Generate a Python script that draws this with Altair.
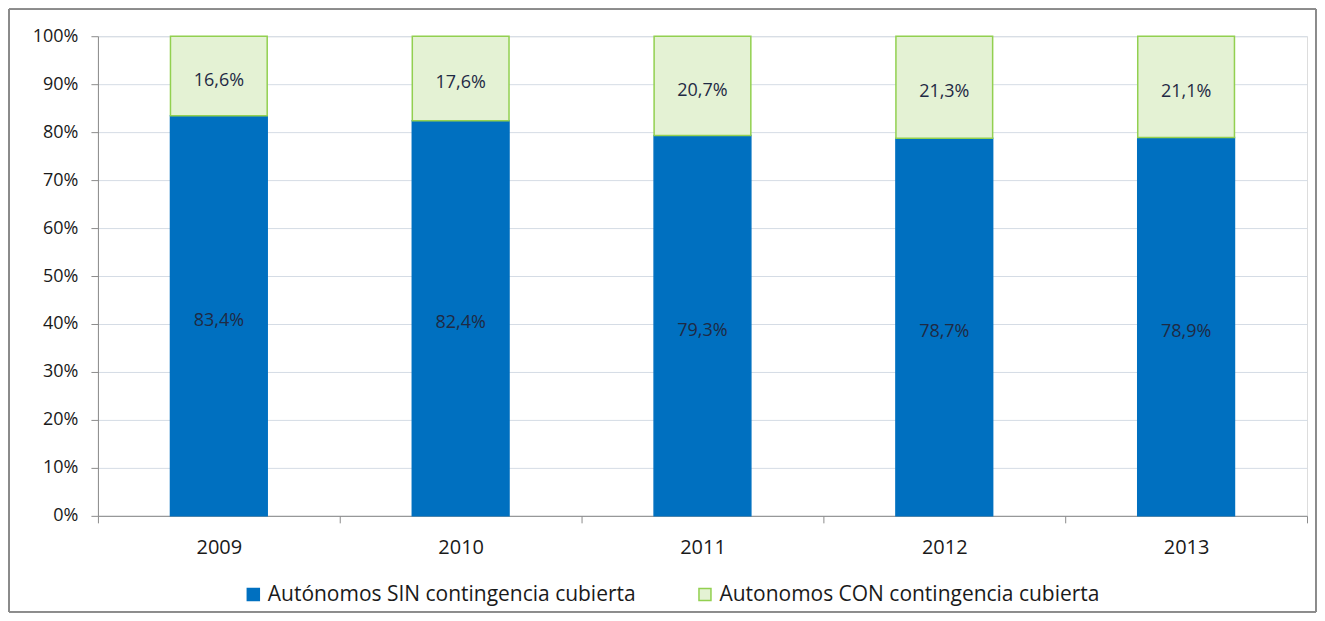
import altair as alt
import pandas as pd

years = ["2009", "2010", "2011", "2012", "2013"]
sin_vals = [83.4, 82.4, 79.3, 78.7, 78.9]
con_vals = [16.6, 17.6, 20.7, 21.3, 21.1]
series = ["Autónomos SIN contingencia cubierta", "Autonomos CON contingencia cubierta"]

rows = []
for i, y in enumerate(years):
    rows.append({"year": y, "serie": series[0], "v": sin_vals[i], "ord": 0})
    rows.append({"year": y, "serie": series[1], "v": con_vals[i], "ord": 1})
df = pd.DataFrame(rows)

FONT = "Open Sans"
W, H = 1210, 480

base = alt.Chart(df).encode(
    x=alt.X("year:N", title=None,
            scale=alt.Scale(paddingInner=0, paddingOuter=0),
            axis=alt.Axis(labelAngle=0, tickBand="extent", tickSize=7, labelPadding=15,
                          domainColor="#8c8c8c", tickColor="#8c8c8c",
                          labelColor="#1a1a1a", labelFontSize=20, labelFont=FONT, grid=False)),
)

leg = alt.Legend(title=None, orient="none", direction="horizontal",
                 legendX=145, legendY=548, symbolType="square",
                 symbolSize=144, labelFontSize=21, labelFont=FONT, labelLimit=0,
                 labelColor="#1a1a1a", columnPadding=58, labelOffset=4,
                 symbolStrokeWidth=1.5)

bars = base.mark_bar(strokeWidth=1.5, width={"band": 0.4}).encode(
    y=alt.Y("v:Q", stack="zero", title=None,
            scale=alt.Scale(domain=[0, 100], nice=False),
            axis=alt.Axis(values=list(range(0, 101, 10)), labelExpr="datum.value + '%'",
                          tickSize=7, labelPadding=13, gridColor="#d5dce5",
                          domainColor="#8c8c8c", tickColor="#8c8c8c",
                          labelColor="#1a1a1a", labelFontSize=18, labelFont=FONT)),
    color=alt.Color("serie:N", scale=alt.Scale(domain=series, range=["#0070c0", "#e4f2d4"]),
                    legend=leg),
    stroke=alt.Stroke("serie:N", scale=alt.Scale(domain=series, range=["#0070c0", "#92d050"]),
                      legend=leg),
    order=alt.Order("ord:Q"),
)

labels = base.transform_stack(
    stack="v", groupby=["year"], as_=["v0", "v1"], sort=[alt.SortField("ord")]
).transform_calculate(
    mid="(datum.v0 + datum.v1) / 2",
    lab="replace(format(datum.v, '.1f'), '.', ',') + '%'",
).mark_text(font=FONT, fontSize=18, color="#1f2a44", dy=5).encode(
    y=alt.Y("mid:Q"),
    text="lab:N",
)

frame = alt.Chart(df).mark_rect(fill=None, stroke="#8c8c8c", strokeWidth=1).encode(
    x=alt.value(-89), x2=alt.value(W + 9), y=alt.value(-27), y2=alt.value(H + 96)
)

chart = alt.layer(bars, labels, frame).properties(
    width=W, height=H,
    padding={"left": 90, "top": 28, "right": 10, "bottom": 100},
    autosize=alt.AutoSizeParams(type="none"),
).configure_view(stroke=None).configure(background="white")

chart.save("out.html", embed_options={"renderer": "svg", "actions": False})
